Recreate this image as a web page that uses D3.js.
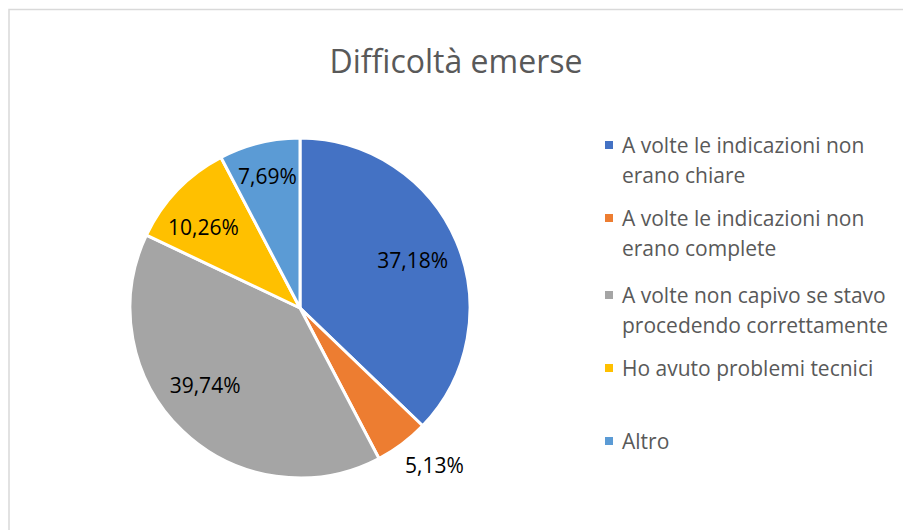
<!DOCTYPE html>
<html><head><meta charset="utf-8">
<script src="https://cdn.jsdelivr.net/npm/d3@7"></script>
<style>body{margin:0;background:#fff}svg{display:block}text{font-family:"Open Sans","Noto Sans",sans-serif}</style>
</head><body><svg id="c" width="903" height="530"></svg>
<script>
const title = "Difficoltà emerse";
const categories = [
  ["A volte le indicazioni non", "erano chiare"],
  ["A volte le indicazioni non", "erano complete"],
  ["A volte non capivo se stavo", "procedendo correttamente"],
  ["Ho avuto problemi tecnici"],
  ["Altro"]
];
const values = [37.18, 5.13, 39.74, 10.26, 7.69];
const labels = ["37,18%", "5,13%", "39,74%", "10,26%", "7,69%"];
const colors = ["#4472C4", "#ED7D31", "#A5A5A5", "#FFC000", "#5B9BD5"];

const svg = d3.select("#c");
svg.append("rect").attr("x", 9).attr("y", 9.5).attr("width", 920).attr("height", 540)
  .attr("fill", "#fff").attr("stroke", "#d9d9d9").attr("stroke-width", 1.5);

svg.append("text").attr("x", 456).attr("y", 73).attr("text-anchor", "middle")
  .attr("font-size", 32).attr("fill", "#595959").text(title);

const cx = 300, cy = 308, R = 170;
const pie = d3.pie().sort(null).value(d => d)(values);
const arc = d3.arc().innerRadius(0).outerRadius(R);
const g = svg.append("g").attr("transform", `translate(${cx},${cy})`);
g.selectAll("path").data(pie).join("path")
  .attr("d", arc).attr("fill", (d, i) => colors[i])
  .attr("stroke", "#fff").attr("stroke-width", 3).attr("stroke-linejoin", "round");

// label placement: radius factor and angular shift (degrees) per slice
const labelFactor = [0.72, 1.22, 0.72, 0.74, 0.8];
const labelShift = [0, -3.5, 7, -4, 0];
g.selectAll("text.lbl").data(pie).join("text").attr("class", "lbl")
  .attr("transform", (d, i) => {
    const a = (d.startAngle + d.endAngle) / 2 + labelShift[i] * Math.PI / 180;
    const r = R * labelFactor[i];
    return `translate(${Math.sin(a) * r},${-Math.cos(a) * r})`;
  })
  .attr("text-anchor", "middle").attr("dy", "0.36em")
  .attr("font-size", 21).attr("fill", "#000").text((d, i) => labels[i]);

const legendY = [145, 218, 295, 368, 441];
const lg = svg.append("g");
categories.forEach((lines, i) => {
  const y = legendY[i];
  lg.append("rect").attr("x", 605).attr("y", y - 4).attr("width", 8).attr("height", 8).attr("fill", colors[i]);
  lines.forEach((t, j) => {
    lg.append("text").attr("x", 622).attr("y", y + j * 30).attr("dy", "0.36em")
      .attr("font-size", 21).attr("fill", "#595959").text(t);
  });
});
</script></body></html>
